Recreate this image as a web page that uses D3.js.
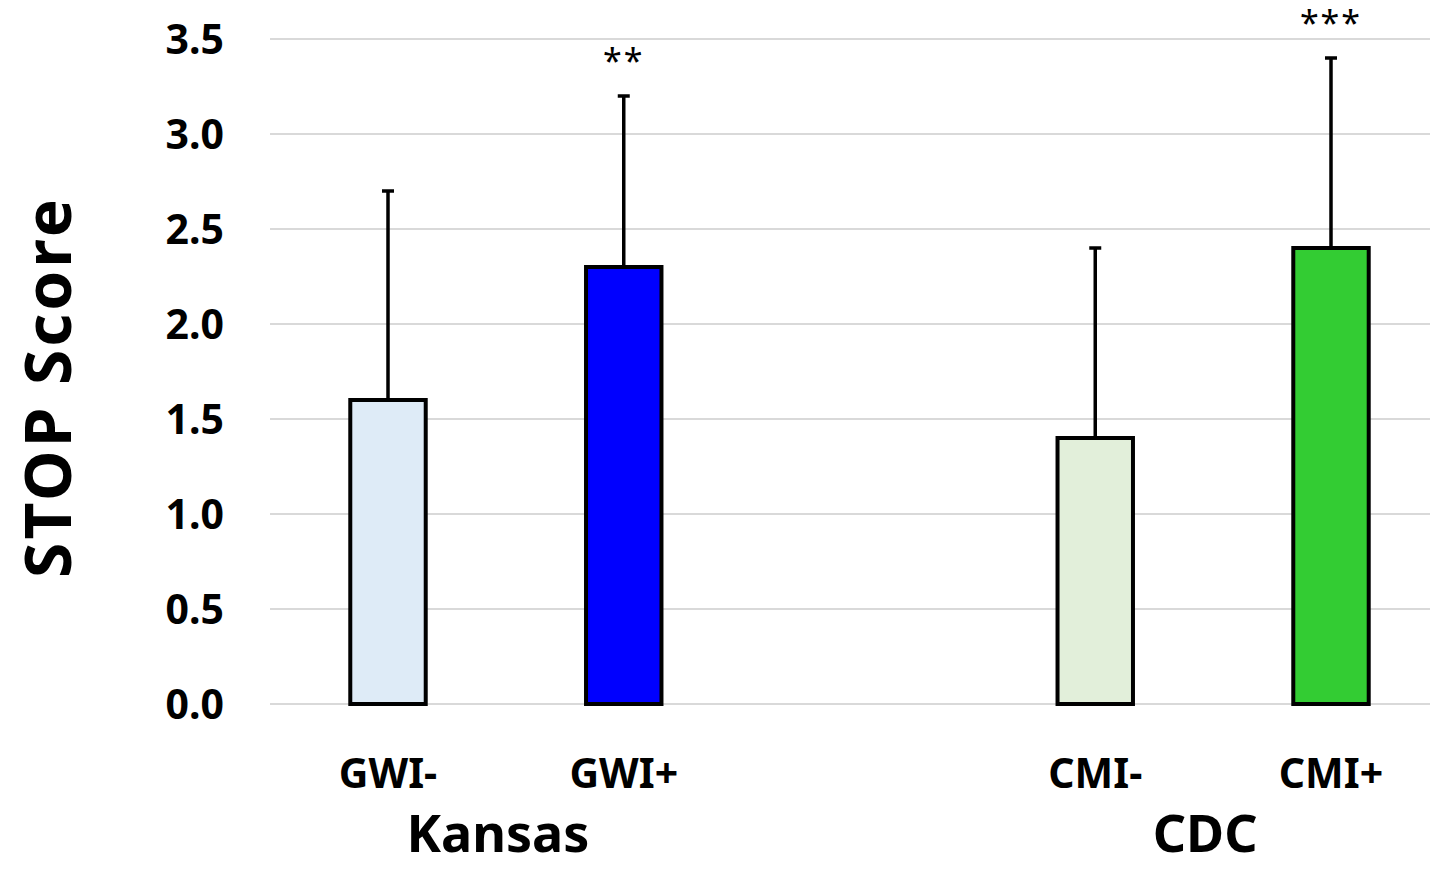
<!DOCTYPE html>
<html>

<head>
    <title>STOP Score</title>
    <script type="text/javascript" src="https://cdn.jsdelivr.net/npm/d3@7/dist/d3.min.js"></script>
    <style>
        body { margin: 0; background: #fff; }
        text { font-family: "Noto Sans", "Open Sans", sans-serif; }
    </style>
</head>

<body>
    <svg width="1430" height="872"></svg>

    <script>
        // data
        var categories = ["GWI-", "GWI+", "", "CMI-", "CMI+"];
        var means = [1.6, 2.3, null, 1.4, 2.4];
        var errTops = [2.7, 3.2, null, 2.4, 3.4];
        var barColors = ["#deebf7", "#0000ff", null, "#e2efda", "#33cc33"];
        var stars = ["", "**", "", "", "***"];
        var groups = ["Kansas", "CDC"];
        var groupMembers = [["GWI-", "GWI+"], ["CMI-", "CMI+"]];
        var yTicks = [0, 0.5, 1, 1.5, 2, 2.5, 3, 3.5];

        var svg = d3.select("svg");

        var x = d3.scalePoint()
            .domain(categories)
            .range([388, 1331]);
        var barW = x.step() * 0.32;

        var y = d3.scaleLinear()
            .domain([0, 3.5])
            .range([704, 39]);

        var bars = categories.map(function (c, i) {
            return { cat: c, mean: means[i], top: errTops[i], color: barColors[i], star: stars[i] };
        }).filter(function (d) { return d.cat !== ""; });

        // gridlines
        svg.append("g")
            .selectAll("line")
            .data(yTicks)
            .enter().append("line")
            .attr("x1", 270)
            .attr("x2", 1430)
            .attr("y1", d => y(d))
            .attr("y2", d => y(d))
            .attr("stroke", "#d9d9d9")
            .attr("stroke-width", 2);

        // y axis labels
        var yAxis = svg.append("g")
            .attr("transform", "translate(224,0)")
            .call(d3.axisLeft(y).tickValues(yTicks).tickFormat(d3.format(".1f")).tickSize(0).tickPadding(0));
        yAxis.select(".domain").remove();
        yAxis.selectAll("line").remove();
        yAxis.selectAll("text")
            .attr("font-family", "Noto Sans")
            .attr("font-size", 41)
            .attr("font-weight", "bold")
            .attr("fill", "#000")
            .attr("dy", "0.36em");

        // error bars
        svg.append("g")
            .selectAll("line")
            .data(bars)
            .enter().append("line")
            .attr("x1", d => x(d.cat))
            .attr("x2", d => x(d.cat))
            .attr("y1", d => y(d.mean))
            .attr("y2", d => y(d.top))
            .attr("stroke", "#000")
            .attr("stroke-width", 3.5);

        svg.append("g")
            .selectAll("line")
            .data(bars)
            .enter().append("line")
            .attr("x1", d => x(d.cat) - 6)
            .attr("x2", d => x(d.cat) + 6)
            .attr("y1", d => y(d.top))
            .attr("y2", d => y(d.top))
            .attr("stroke", "#000")
            .attr("stroke-width", 3.5);

        // bars
        svg.append("g")
            .selectAll("rect")
            .data(bars)
            .enter().append("rect")
            .attr("x", d => x(d.cat) - barW / 2)
            .attr("width", barW)
            .attr("y", d => y(d.mean))
            .attr("height", d => y(0) - y(d.mean))
            .attr("fill", d => d.color)
            .attr("stroke", "#000")
            .attr("stroke-width", 4);

        // significance stars
        svg.append("g")
            .selectAll("text")
            .data(bars.filter(d => d.star))
            .enter().append("text")
            .attr("x", d => x(d.cat))
            .attr("y", d => y(d.top) - 23)
            .attr("text-anchor", "middle")
            .attr("font-size", 34)
            .attr("letter-spacing", 2)
            .text(d => d.star);

        // category labels
        svg.append("g")
            .selectAll("text")
            .data(bars)
            .enter().append("text")
            .attr("x", d => x(d.cat))
            .attr("y", 788)
            .attr("text-anchor", "middle")
            .attr("font-size", 41)
            .attr("font-weight", "bold")
            .text(d => d.cat);

        // group labels
        svg.append("g")
            .selectAll("text")
            .data(groups)
            .enter().append("text")
            .attr("x", (d, i) => (x(groupMembers[i][0]) + x(groupMembers[i][1])) / 2 - 8)
            .attr("y", 852)
            .attr("text-anchor", "middle")
            .attr("font-size", 52)
            .attr("font-weight", "bold")
            .text(d => d);

        // y title
        svg.append("text")
            .attr("transform", "translate(71,387) rotate(-90)")
            .attr("text-anchor", "middle")
            .attr("font-size", 64)
            .attr("font-weight", "bold")
            .attr("letter-spacing", 3)
            .text("STOP Score");
    </script>
</body>

</html>
